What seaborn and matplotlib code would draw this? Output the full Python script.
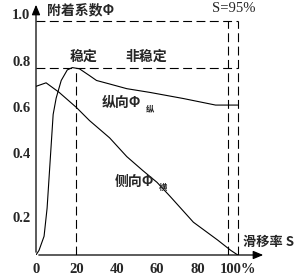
import matplotlib
matplotlib.use("Agg")
import matplotlib.pyplot as plt
import matplotlib.transforms as mtransforms
import seaborn as sns
import pandas as pd

# ---- data ----
long_S = [0, 1.5, 4, 5.5, 7, 8.5, 10, 12.5, 15.5, 18, 21.5, 26.5, 30, 36.5, 45, 56.5, 73, 89, 95, 100]
long_phi = [0.0, 0.02, 0.08, 0.20, 0.40, 0.60, 0.67, 0.745, 0.79, 0.80, 0.795, 0.766, 0.745, 0.73, 0.71, 0.694, 0.668, 0.64, 0.64, 0.64]
lat_S = [0, 5, 11.5, 20, 26.5, 36.5, 45, 53, 60, 66.5, 78, 90, 96.5, 100]
lat_phi = [0.72, 0.735, 0.694, 0.63, 0.574, 0.50, 0.42, 0.36, 0.31, 0.25, 0.14, 0.064, 0.02, 0.0]
x_ticks = [0, 20, 40, 60, 80, 100]
x_tick_labels = ["0", "20", "40", "60", "80", "100%"]
y_ticks = [0.2, 0.4, 0.6, 0.8, 1.0]
y_tick_labels = ["0.2", "0.4", "0.6", "0.8", "1.0"]
S_stable = 20
S_95 = 95
S_max = 100
phi_peak = 0.8
phi_top = 1.0

df = pd.concat([
    pd.DataFrame({"S": long_S, "phi": long_phi, "curve": "long"}),
    pd.DataFrame({"S": lat_S, "phi": lat_phi, "curve": "lat"}),
])

sns.set_style("white")
cjk = ["Noto Sans CJK SC", "DejaVu Sans"]
serif = ["Liberation Serif", "DejaVu Serif"]

fig = plt.figure(figsize=(3.0, 2.77), dpi=100)
ax = fig.add_axes([0.12, 22 / 277, 230 / 300, 253 / 277])

sns.lineplot(data=df, x="S", y="phi", hue="curve", palette=["black", "black"],
             estimator=None, sort=False, legend=False, lw=0.8, ax=ax)

ax.set_xlim(0, 114)
ax.set_ylim(0, 1.08)
for s in ax.spines.values():
    s.set_visible(False)

# axes with arrows
ax.annotate("", xy=(0, 1.0), xytext=(0, 0), xycoords="axes fraction",
            arrowprops=dict(arrowstyle="-|>,head_width=0.25,head_length=0.6", color="black", lw=0.9))
ax.annotate("", xy=(1.0, 0), xytext=(0, 0), xycoords="axes fraction",
            arrowprops=dict(arrowstyle="-|>,head_width=0.25,head_length=0.6", color="black", lw=0.9))

# reference dashed lines
dash = dict(color="black", lw=0.8, linestyle=(0, (8, 4)))
ax.plot([0, S_max], [phi_top, phi_top], **dash)
ax.plot([0, S_max], [phi_peak, phi_peak], **dash)
ax.plot([S_max, S_max], [0, phi_top], **dash)
ax.plot([S_95, S_95], [0, phi_top], **dash)
ax.plot([S_stable, S_stable], [0, phi_peak], **dash)

# ticks
ax.set_xticks(x_ticks)
ax.set_xticklabels(x_tick_labels, family=serif, fontweight="bold", fontsize=10.5)
ax.set_yticks(y_ticks)
ax.set_yticklabels(y_tick_labels, family=serif, fontweight="bold", fontsize=10.5)
ax.tick_params(axis="x", direction="in", length=8, width=0.8, pad=6, color="black")
ax.tick_params(axis="y", direction="in", length=10, width=0.8, pad=4, color="black")
ax.set_xlabel("")
ax.set_ylabel("")

# shift y labels as in the reference
offsets = {"0.2": -9, "0.4": 8, "0.6": 7, "0.8": 7, "1.0": 7}
for lab in ax.get_yticklabels():
    dy = offsets.get(lab.get_text(), 0)
    lab.set_transform(lab.get_transform() + mtransforms.ScaledTranslation(0, dy / 100, fig.dpi_scale_trans))

# texts
fig.text(47 / 300, 1 - 10 / 277, "附着系数Φ", family=cjk, fontweight="bold", fontsize=10, va="center", ha="left")
fig.text(212 / 300, 1 - 8 / 277, "S=95%", family=serif, fontsize=10.5, va="center", ha="left")
fig.text(70 / 300, 1 - 57 / 277, "稳定", family=cjk, fontweight="bold", fontsize=10, va="center", ha="left")
fig.text(125 / 300, 1 - 57 / 277, "非稳定", family=cjk, fontweight="bold", fontsize=10, va="center", ha="left")
fig.text(102 / 300, 1 - 103 / 277, "纵向Φ", family=cjk, fontweight="bold", fontsize=10, va="center", ha="left")
fig.text(146 / 300, 1 - 109 / 277, "纵", family=cjk, fontweight="bold", fontsize=6, va="center", ha="left")
fig.text(115 / 300, 1 - 182 / 277, "侧向Φ", family=cjk, fontweight="bold", fontsize=10, va="center", ha="left")
fig.text(159 / 300, 1 - 187 / 277, "横", family=cjk, fontweight="bold", fontsize=6, va="center", ha="left")
fig.text(243 / 300, 1 - 242 / 277, "滑移率 S", family=cjk, fontweight="bold", fontsize=9.5, va="center", ha="left")

fig.savefig("out.png", dpi=100)
